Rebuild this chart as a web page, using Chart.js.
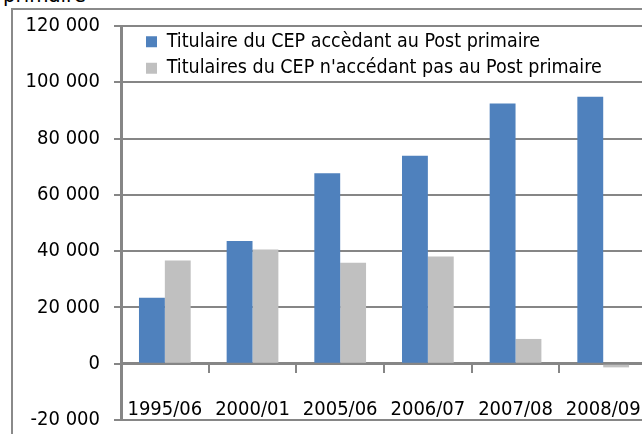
<html><head>
<script src="https://cdn.jsdelivr.net/npm/chart.js@4.4.0/dist/chart.umd.min.js"></script>
<style>
  body { margin: 0; background: #fff; overflow: hidden; }
  #wrap { position: relative; width: 642px; height: 434px; overflow: hidden; }
  #chart { position: absolute; left: 0; top: 0; }
  #frame { position: absolute; left: 11px; top: 8px; width: 700px; height: 500px;
           border-left: 2px solid #8a8a8a; border-top: 2px solid #8a8a8a; }
  #cut { position: absolute; left: 3px; top: -16px; font-size: 22px; line-height: 22px;
         font-family: 'DejaVu Sans Condensed', sans-serif; }
</style>
</head>
<body>
<div id="wrap">
  <div id="cut">primaire</div>
  <div id="frame"></div>
  <canvas id="chart" width="667" height="446"></canvas>
</div>
<script>
  var years = ["1995/06", "2000/01", "2005/06", "2006/07", "2007/08", "2008/09"];
  var accedant = [23400, 43600, 67700, 73900, 92500, 94900];
  var nonAccedant = [36700, 40600, 35900, 38100, 8800, -1300];
  var seriesNames = ["Titulaire du CEP accèdant au Post primaire",
                     "Titulaires du CEP n'accédant pas au Post primaire"];
  var yMin = -20000, yMax = 120000, yStep = 20000;

  Chart.defaults.font.family = "'DejaVu Sans Condensed', sans-serif";
  Chart.defaults.color = "#000";

  function spaced(v) {
    return String(v).replace(/\B(?=(\d{3})+(?!\d))/g, " ");
  }

  // put the legend inside the plot, top left, like the original
  var moveLegend = {
    id: "moveLegend",
    afterLayout: function(chart) {
      var lg = chart.legend, ca = chart.chartArea;
      var w = lg.right - lg.left;
      lg.left = ca.left + 18;
      lg.right = lg.left + w;
      lg.top = ca.top - 1;
    }
  };

  new Chart(document.getElementById("chart"), {
    type: "bar",
    data: {
      labels: years,
      datasets: [{
        label: seriesNames[0],
        data: accedant,
        backgroundColor: "#4f81bd"
      }, {
        label: seriesNames[1],
        data: nonAccedant,
        backgroundColor: "#c0c0c0"
      }]
    },
    options: {
      responsive: false,
      animation: false,
      layout: { padding: { top: 24, left: 0, right: 5, bottom: 0 } },
      datasets: { bar: { categoryPercentage: 0.59, barPercentage: 1.0 } },
      plugins: {
        legend: {
          position: "chartArea",
          align: "start",
          labels: { boxWidth: 11, boxHeight: 11, padding: 7, font: { size: 19.5 } }
        },
        tooltip: { enabled: false }
      },
      scales: {
        x: {
          position: { y: 0 },
          afterFit: function(s) { s.height = 0; },
          border: { color: "#868686", width: 3 },
          grid: { drawOnChartArea: false, offset: true, tickLength: 8, color: "#868686", lineWidth: 2 },
          ticks: { font: { size: 20 }, padding: 26, maxRotation: 0, autoSkip: false }
        },
        y: {
          min: yMin,
          max: yMax,
          afterFit: function(s) { s.width = 121; },
          border: { color: "#868686", width: 3 },
          grid: { color: "#868686", lineWidth: 2, tickLength: 7 },
          ticks: {
            stepSize: yStep,
            padding: 14,
            font: { size: 20 },
            callback: function(v) { return spaced(v); }
          }
        }
      }
    },
    plugins: [moveLegend]
  });
</script>
</body>
</html>
